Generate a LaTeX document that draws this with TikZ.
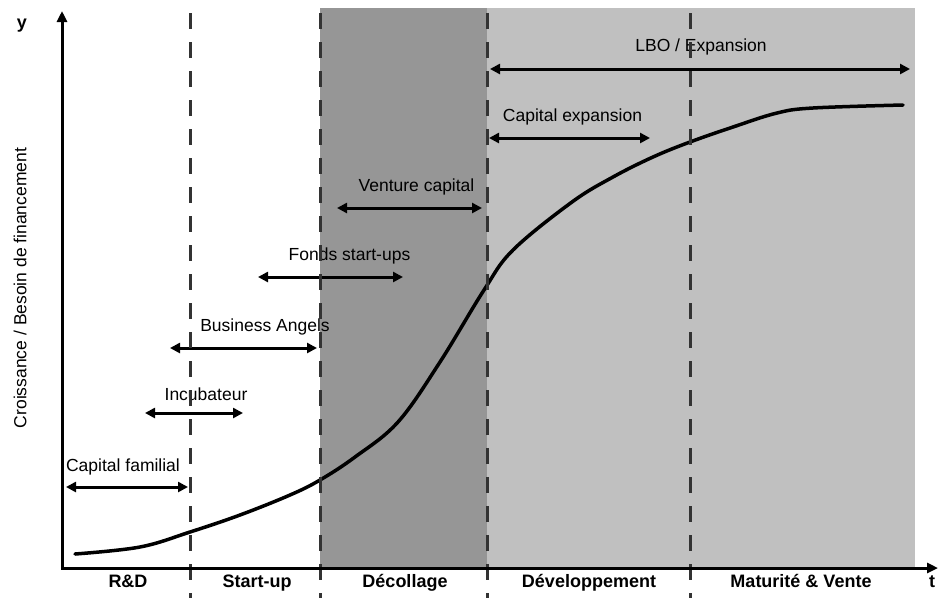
\documentclass[tikz,border=0pt]{standalone}
\usepackage{fontspec}
\setmainfont{Liberation Sans}
\usetikzlibrary{arrows.meta}
\definecolor{darkshade}{HTML}{969696}
\definecolor{lightshade}{HTML}{C0C0C0}
\definecolor{dashcol}{HTML}{333333}
\begin{document}
\begin{tikzpicture}[x=1pt,y=-1pt,
  lbl/.style={font=\fontsize{17.5}{20}\selectfont, inner sep=0pt, anchor=base},
  phase/.style={font=\bfseries\fontsize{18}{21}\selectfont, inner sep=0pt, anchor=base},
  span/.style={line width=3pt, {Triangle[length=10pt,width=10pt]}-{Triangle[length=10pt,width=10pt]}},
  sep/.style={line width=3pt, dashcol, dash pattern=on 16pt off 13pt},
  axis/.style={line width=3pt, {Triangle[length=11pt,width=10pt]}-{Triangle[length=11pt,width=10pt]}, line join=miter},
  growth/.style={line width=3.5pt, line cap=round, line join=round}
  ]
\useasboundingbox (0,0) rectangle (941,598);

% shaded phases
\fill[darkshade] (320,8) rectangle (487,568);
\fill[lightshade] (487,8) rectangle (915,568);

% span coordinates
\coordinate (cfL) at (66,487);  \coordinate (cfR) at (188,487);
\coordinate (inL) at (145,413); \coordinate (inR) at (243,413);
\coordinate (baL) at (170,348); \coordinate (baR) at (317,348);
\coordinate (fsL) at (258,277); \coordinate (fsR) at (403,277);
\coordinate (vcL) at (337,208); \coordinate (vcR) at (482,208);
\coordinate (ceL) at (489,138); \coordinate (ceR) at (650,138);
\coordinate (lbL) at (490,69);  \coordinate (lbR) at (910,69);

\draw[span] (cfL) -- (cfR);
\draw[span] (inL) -- (inR);
\draw[span] (baL) -- (baR);
\draw[span] (fsL) -- (fsR);
\draw[span] (vcL) -- (vcR);
\draw[span] (ceL) -- (ceR);
\draw[span] (lbL) -- (lbR);

% growth curve
\draw[growth] plot[smooth, tension=0.6] coordinates {
  (75,554) (140,547) (190,532) (240,515) (290,495) (320,480) (355,457)
  (398,422) (440,362) (484,290) (513,250)
  (572,202) (613,177) (653,157) (690,142) (733,127) (777,113)
  (813,108) (903,105)};

% span labels
\node[lbl] (cf) at (123,471) {Capital familial};
\node[lbl] (in) at (206,400) {Incubateur};
\node[lbl] (ba) at (265,331) {Business Angels};
\node[lbl] (fs) at (349.5,260) {Fonds start-ups};
\node[lbl] (vc) at (416.5,191) {Venture capital};
\node[lbl] (ce) at (572.5,121) {Capital expansion};
\node[lbl] (lb) at (701,51) {LBO / Expansion};

% phase separators
\foreach \n/\x in {s1/190, s2/320, s3/487, s4/690} {
  \coordinate (\n t) at (\x,13);
  \coordinate (\n b) at (\x,598);
  \draw[sep] (\n t) -- (\n b);
}

% axes
\coordinate (ytop) at (62,11);
\coordinate (orig) at (62,568);
\coordinate (xend) at (938,568);
\draw[axis] (ytop) -- (orig) -- (xend);

% phase labels
\node[phase] (rd) at (128,587) {R\&D};
\node[phase] (su) at (257,587) {Start-up};
\node[phase] (de) at (405,587) {Décollage};
\node[phase] (dv) at (589,587) {Développement};
\node[phase] (mv) at (801,587) {Maturité \& Vente};
\node[phase] (tl) at (932,587) {t};
\node[phase] (yl) at (22,28) {y};

% y axis label
\node[font=\fontsize{17.5}{20}\selectfont, inner sep=0pt, rotate=90] (ylab) at (20,288) {Croissance / Besoin de financement};
\end{tikzpicture}
\end{document}
